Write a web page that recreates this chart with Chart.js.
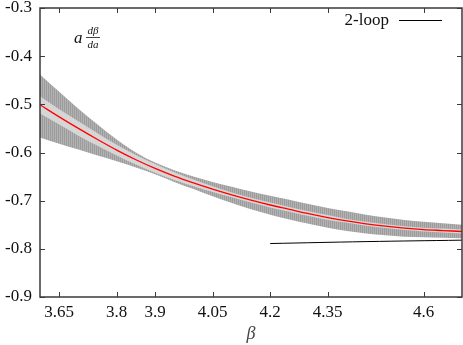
<!DOCTYPE html>
<html>
<head>
<meta charset="utf-8">
<script src="https://cdn.jsdelivr.net/npm/chart.js@4"></script>
<style>
html,body{margin:0;padding:0;background:#fff;}
canvas{display:block;}
</style>
</head>
<body>
<canvas id="c" width="463" height="345" style="width:463px;height:345px"></canvas>
<script>
// ---- data ----
const betas = [3.60,3.65,3.70,3.75,3.80,3.85,3.90,3.95,4.00,4.05,4.10,4.15,4.20,4.25,4.30,4.35,4.40,4.45,4.50,4.55,4.60,4.65,4.70];
const central = [-0.501,-0.526,-0.550,-0.573,-0.595,-0.615,-0.633,-0.649,-0.663,-0.676,-0.688,-0.699,-0.709,-0.718,-0.727,-0.735,-0.742,-0.748,-0.753,-0.757,-0.760,-0.762,-0.764];
const outerUpper = [-0.438,-0.474,-0.509,-0.542,-0.573,-0.600,-0.621,-0.637,-0.650,-0.661,-0.671,-0.681,-0.690,-0.698,-0.707,-0.715,-0.722,-0.729,-0.735,-0.740,-0.744,-0.747,-0.750];
const outerLower = [-0.569,-0.582,-0.594,-0.606,-0.618,-0.631,-0.645,-0.661,-0.676,-0.691,-0.705,-0.718,-0.729,-0.739,-0.748,-0.756,-0.763,-0.768,-0.772,-0.775,-0.776,-0.777,-0.778];
const innerUpper = [-0.483,-0.510,-0.535,-0.560,-0.584,-0.605,-0.624,-0.641,-0.656,-0.670,-0.683,-0.694,-0.704,-0.713,-0.722,-0.730,-0.738,-0.744,-0.749,-0.753,-0.756,-0.758,-0.760];
const innerLower = [-0.519,-0.542,-0.565,-0.586,-0.606,-0.625,-0.642,-0.657,-0.670,-0.682,-0.693,-0.704,-0.714,-0.723,-0.732,-0.740,-0.746,-0.752,-0.757,-0.761,-0.764,-0.766,-0.768];
const twoLoopBetas = [4.20,4.45,4.70];
const twoLoopValues = [-0.789,-0.785,-0.782];
const xTicks = [3.65,3.8,3.9,4.05,4.2,4.35,4.6];
const xTickLabels = ['3.65','3.8','3.9','4.05','4.2','4.35','4.6'];
const yTicks = [-0.9,-0.8,-0.7,-0.6,-0.5,-0.4,-0.3];
const yTickLabels = ['-0.9','-0.8','-0.7','-0.6','-0.5','-0.4','-0.3'];
const legendLabel = '2-loop';
const xTitle = 'β';

// ---- styling ----
const FONT = 'Liberation Serif';
const toXY = (xs, ys) => xs.map((x, i) => ({x: x, y: ys[i]}));

// hatched pattern for outer band
const pc = document.createElement('canvas');
pc.width = 2; pc.height = 1;
const pctx = pc.getContext('2d');
pctx.fillStyle = '#9c9c9c'; pctx.fillRect(0,0,1,1);
pctx.fillStyle = '#b2b2b2'; pctx.fillRect(1,0,1,1);
const ctx0 = document.getElementById('c').getContext('2d');
const hatch = ctx0.createPattern(pc, 'repeat');

const common = {pointRadius:0, borderWidth:0, tension:0.4, cubicInterpolationMode:'monotone'};

const decor = {
  id: 'decor',
  afterDatasetsDraw(chart) {
    const {ctx, chartArea: a, scales} = chart;
    ctx.save();
    // frame
    ctx.strokeStyle = '#3a3a3a';
    ctx.lineWidth = 1.5;
    ctx.strokeRect(a.left, a.top, a.right - a.left, a.bottom - a.top);
    // ticks (inward, mirrored)
    ctx.lineWidth = 1;
    ctx.beginPath();
    scales.x.ticks.forEach(t => {
      const px = Math.round(scales.x.getPixelForValue(t.value)) + 0.5;
      ctx.moveTo(px, a.bottom); ctx.lineTo(px, a.bottom - 5);
      ctx.moveTo(px, a.top); ctx.lineTo(px, a.top + 5);
    });
    scales.y.ticks.forEach(t => {
      const py = Math.round(scales.y.getPixelForValue(t.value)) + 0.5;
      ctx.moveTo(a.left, py); ctx.lineTo(a.left + 5, py);
      ctx.moveTo(a.right, py); ctx.lineTo(a.right - 5, py);
    });
    ctx.stroke();
    // label a dβ/da
    ctx.fillStyle = '#111';
    ctx.font = 'italic 17px "' + FONT + '"';
    ctx.textAlign = 'left';
    ctx.textBaseline = 'alphabetic';
    ctx.fillText('a', 74, 43);
    ctx.font = 'italic 11px "' + FONT + '"';
    ctx.textAlign = 'center';
    ctx.fillText('dβ', 93, 34);
    ctx.fillText('da', 93, 48);
    ctx.beginPath();
    ctx.moveTo(86, 37.5); ctx.lineTo(100, 37.5);
    ctx.strokeStyle = '#111'; ctx.lineWidth = 0.8;
    ctx.stroke();
    // legend
    ctx.font = '17px "' + FONT + '"';
    ctx.textAlign = 'right';
    ctx.fillText(legendLabel, 389, 25);
    ctx.beginPath();
    ctx.moveTo(399, 20.5); ctx.lineTo(442, 20.5);
    ctx.strokeStyle = '#000'; ctx.lineWidth = 1;
    ctx.stroke();
    ctx.restore();
  }
};

new Chart(ctx0, {
  type: 'line',
  data: {
    datasets: [
      Object.assign({label:'outerUpper', data: toXY(betas, outerUpper), fill:'+1', backgroundColor: hatch, borderColor:'rgba(0,0,0,0)', order:5}, common),
      Object.assign({label:'outerLower', data: toXY(betas, outerLower), fill:false, borderColor:'rgba(0,0,0,0)', order:6}, common),
      Object.assign({label:'innerUpper', data: toXY(betas, innerUpper), fill:'+1', backgroundColor:'#d6d6d6', borderColor:'rgba(0,0,0,0)', order:3}, common),
      Object.assign({label:'innerLower', data: toXY(betas, innerLower), fill:false, borderColor:'rgba(0,0,0,0)', order:4}, common),
      {label:'fit', data: toXY(betas, central), borderColor:'#ff0000', borderWidth:1.3, pointRadius:0, fill:false, tension:0.4, cubicInterpolationMode:'monotone', order:1},
      {label:legendLabel, data: toXY(twoLoopBetas, twoLoopValues), borderColor:'#000', borderWidth:1, pointRadius:0, fill:false, tension:0.4, order:2}
    ]
  },
  options: {
    responsive: false,
    animation: false,
    layout: {padding: {top: 8, right: 1, left: 0, bottom: 0}},
    plugins: {legend: {display: false}, tooltip: {enabled: false}},
    scales: {
      x: {
        type: 'linear', min: 3.6, max: 4.7,
        grid: {display: false, drawTicks: false},
        border: {display: false},
        afterBuildTicks: s => { s.ticks = xTicks.map(v => ({value: v})); },
        ticks: {autoSkip: false, maxRotation: 0, padding: 5, color: '#111',
                font: {family: FONT, size: 17},
                callback: (v, i) => xTickLabels[i]},
        title: {display: true, text: xTitle, color: '#444',
                font: {family: FONT, size: 18, style: 'italic'},
                padding: {top: 0, bottom: 0}},
        afterFit: s => { s.height = 48; s.paddingLeft = 0; s.paddingRight = 0; }
      },
      y: {
        type: 'linear', min: -0.9, max: -0.3,
        grid: {display: false, drawTicks: false},
        border: {display: false},
        afterBuildTicks: s => { s.ticks = yTicks.map(v => ({value: v})); },
        ticks: {padding: 8, color: '#111', font: {family: FONT, size: 17},
                callback: (v, i) => yTickLabels[i]},
        afterFit: s => { s.width = 40; s.paddingTop = 0; s.paddingBottom = 0; }
      }
    }
  },
  plugins: [decor]
});
</script>
</body>
</html>
